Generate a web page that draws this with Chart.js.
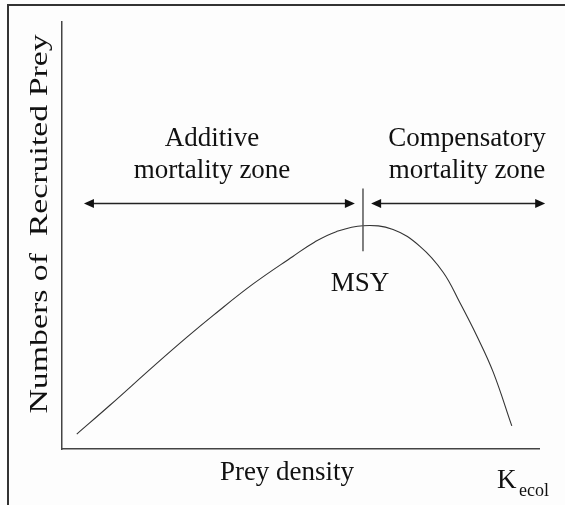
<!DOCTYPE html>
<html>
<head>
<meta charset="utf-8">
<script src="https://cdn.jsdelivr.net/npm/chart.js@4.4.1/dist/chart.umd.min.js"></script>
<style>
	html, body { margin: 0; padding: 0; background: #fdfdfd; }
	#wrap { width: 565px; height: 505px; }
</style>
</head>
<body>
<div id="wrap"><canvas id="msyChart" width="565" height="505"></canvas></div>
<script>
// prey density (x, 0..100) and recruits (y, 0..100)
const densityX = [3.1, 10.1, 19.1, 26.2, 31.7, 40.0, 48.4, 53.0, 57.5, 63.1, 69.4, 75.1, 79.9, 83.4, 87.0, 90.4, 94.3];
const recruitsY = [3.5, 10.3, 19.3, 26.2, 31.3, 38.6, 45.1, 48.5, 50.9, 52.3, 51.4, 47.4, 41.4, 34.3, 26.4, 18.0, 5.4];

// zone arrows and MSY marker, in the same data units
const arrowY = 57.5;
const additiveArrowX = [4.6, 61.4];
const compensatoryArrowX = [64.8, 101.3];
const msyX = 63.1;
const msyLineY = [46.3, 61.0];

const serif = "'Liberation Serif', 'DejaVu Serif', serif";
const ink = "#111";

const curvePoints = densityX.map((x, i) => ({ x: x, y: recruitsY[i] }));

function arrowHead(ctx, x, y, dir) {
	ctx.beginPath();
	ctx.moveTo(x, y);
	ctx.lineTo(x - dir * 10, y - 4.5);
	ctx.lineTo(x - dir * 10, y + 4.5);
	ctx.closePath();
	ctx.fill();
}

function doubleArrow(ctx, x1, x2, y) {
	ctx.beginPath();
	ctx.moveTo(x1 + 4, y);
	ctx.lineTo(x2 - 4, y);
	ctx.stroke();
	arrowHead(ctx, x1, y, -1);
	arrowHead(ctx, x2, y, 1);
}

const annotations = {
	id: "annotations",
	afterDraw(chart) {
		const { ctx, scales: { x, y } } = chart;
		ctx.save();

		// outer frame (left and top only)
		ctx.strokeStyle = "#333";
		ctx.lineWidth = 2;
		ctx.beginPath();
		ctx.moveTo(8, 505);
		ctx.lineTo(8, 5);
		ctx.lineTo(565, 5);
		ctx.stroke();

		// zone arrows
		ctx.strokeStyle = "#222";
		ctx.fillStyle = "#111";
		ctx.lineWidth = 1.3;
		const ay = y.getPixelForValue(arrowY);
		doubleArrow(ctx, x.getPixelForValue(additiveArrowX[0]), x.getPixelForValue(additiveArrowX[1]), ay);
		doubleArrow(ctx, x.getPixelForValue(compensatoryArrowX[0]), x.getPixelForValue(compensatoryArrowX[1]), ay);

		// MSY tick
		ctx.strokeStyle = "#555";
		ctx.lineWidth = 1.5;
		ctx.beginPath();
		ctx.moveTo(x.getPixelForValue(msyX), y.getPixelForValue(msyLineY[0]));
		ctx.lineTo(x.getPixelForValue(msyX), y.getPixelForValue(msyLineY[1]));
		ctx.stroke();

		// texts
		ctx.fillStyle = ink;
		ctx.textAlign = "center";
		ctx.textBaseline = "alphabetic";
		ctx.font = "27px " + serif;
		ctx.fillText("Additive", 212, 146);
		ctx.fillText("mortality zone", 212, 178);
		ctx.fillText("Compensatory", 467, 146);
		ctx.fillText("mortality zone", 467, 178);
		ctx.fillText("MSY", 360, 291);
		ctx.fillText("Prey density", 287, 480);

		ctx.textAlign = "left";
		ctx.fillText("K", 497, 488);
		ctx.font = "18px " + serif;
		ctx.fillText("ecol", 519, 496);

		// y axis title, stretched along its length like the original
		ctx.font = "26px " + serif;
		ctx.textAlign = "center";
		ctx.translate(47, 224);
		ctx.rotate(-Math.PI / 2);
		ctx.scale(1.3, 1);
		ctx.fillText("Numbers of  Recruited Prey", 0, 0);

		ctx.restore();
	},
};

const config = {
	type: "line",
	data: {
		datasets: [
			{
				data: curvePoints,
				borderColor: "#333",
				borderWidth: 1.1,
				pointRadius: 0,
				tension: 0.4,
				fill: false,
			},
		],
	},
	options: {
		responsive: false,
		animation: false,
		events: [],
		layout: {
			padding: { left: 62, right: 26, top: 22, bottom: 56 },
		},
		scales: {
			x: {
				type: "linear",
				min: 0,
				max: 100,
				grid: { display: false, drawTicks: false },
				ticks: { display: false },
				border: { display: true, color: "#444", width: 1.5 },
			},
			y: {
				type: "linear",
				min: 0,
				max: 100,
				grid: { display: false, drawTicks: false },
				ticks: { display: false },
				border: { display: true, color: "#444", width: 1.5 },
			},
		},
		plugins: {
			legend: { display: false },
			tooltip: { enabled: false },
		},
	},
	plugins: [annotations],
};

new Chart(document.getElementById("msyChart"), config);
</script>
</body>
</html>
